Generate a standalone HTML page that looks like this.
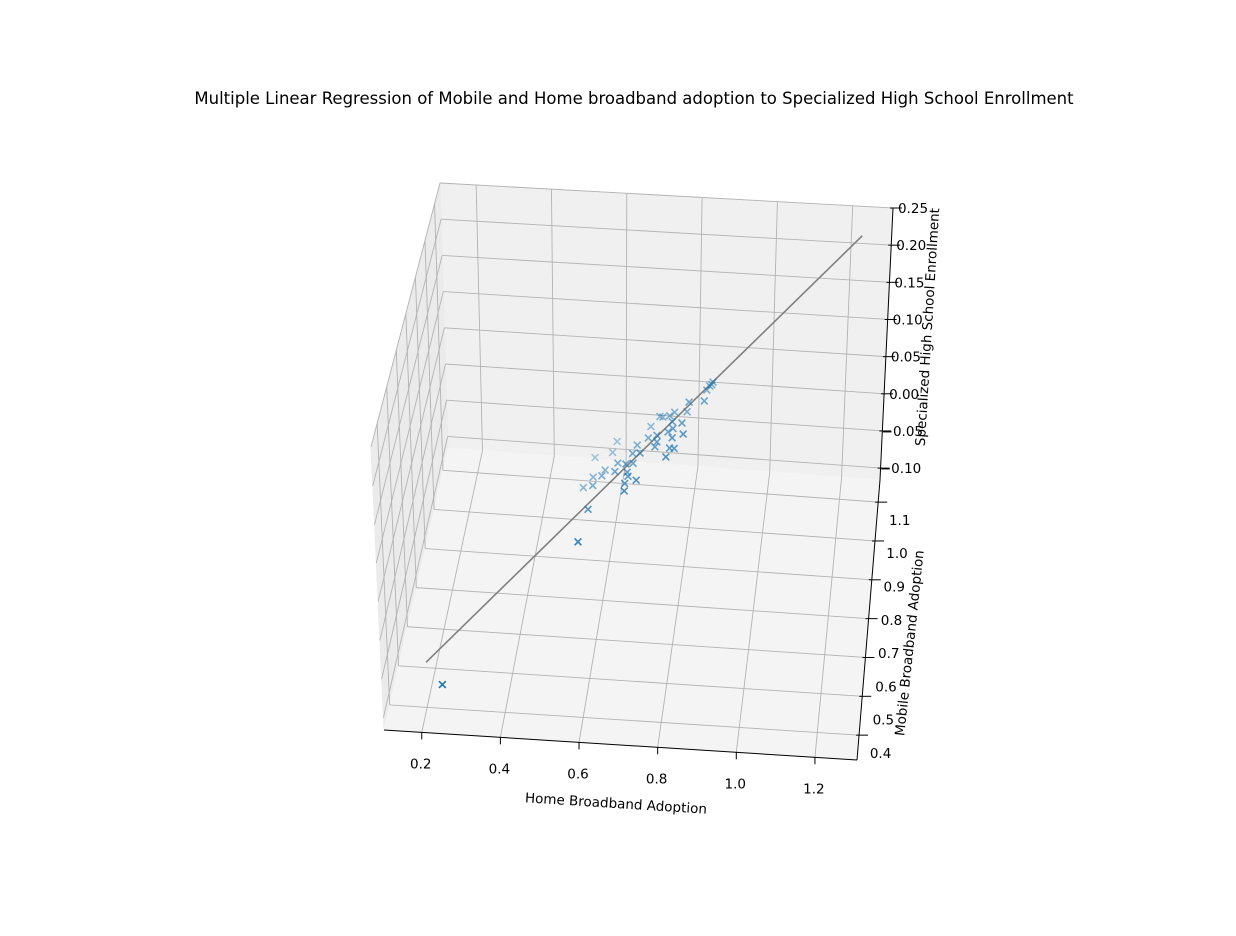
<!DOCTYPE html>
<html><head><meta charset="utf-8">
<style>
html,body{margin:0;padding:0;background:#fff;}
svg{display:block;font-family:"DejaVu Sans","Liberation Sans",sans-serif;}
</style></head>
<body>
<svg id="chart" width="1236" height="936" viewBox="0 0 1236 936">
<text x="634" y="104" text-anchor="middle" font-size="16.5" fill="#000">Multiple Linear Regression of Mobile and Home broadband adoption to Specialized High School Enrollment</text>
<g id="panes"></g>
<g id="grid"></g>
<g id="axes"></g>
<g id="line"></g>
<g id="points"></g>
<text x="616" y="808" text-anchor="middle" font-size="13.5" transform="rotate(3.6 616 803)">Home Broadband Adoption</text>
<text x="909" y="648" text-anchor="middle" font-size="13.5" transform="rotate(-84 909 643)">Mobile Broadband Adoption</text>
<text x="927" y="332" text-anchor="middle" font-size="13.5" transform="rotate(-86.5 927 327)">Specialized High School Enrollment</text>
</svg>
<script>
const home = [0.899,0.894,0.887,0.885,0.844,0.839,0.805,0.793,0.774,0.803,0.831,0.743,0.808,0.838,0.766,0.742,0.809,0.654,0.713,0.764,0.805,0.817,0.645,0.704,0.798,0.598,0.666,0.691,0.708,0.632,0.662,0.626,0.696,0.700,0.601,0.724,0.693,0.604,0.577,0.695,0.601,0.585,0.256,0.725,0.768,0.766,0.795,0.902];
const mobile = [0.912,0.910,0.905,0.875,0.879,0.877,0.885,0.877,0.882,0.855,0.842,0.877,0.836,0.818,0.833,0.840,0.816,0.873,0.837,0.811,0.799,0.799,0.854,0.817,0.780,0.855,0.809,0.787,0.798,0.810,0.785,0.793,0.776,0.764,0.805,0.750,0.753,0.780,0.792,0.732,0.719,0.652,0.455,0.808,0.820,0.883,0.836,0.915];
const enrollment = [0.124,0.123,0.120,0.121,0.116,0.104,0.098,0.097,0.092,0.101,0.107,0.081,0.102,0.105,0.093,0.085,0.100,0.060,0.076,0.089,0.095,0.095,0.055,0.075,0.093,0.046,0.065,0.076,0.072,0.054,0.066,0.055,0.071,0.072,0.046,0.075,0.068,0.048,0.038,0.069,0.048,0.039,-0.060,0.081,0.091,0.092,0.097,0.126];
const lineHome = [0.206,1.264];
const lineMobile = [0.497,1.131];
const lineEnroll = [-0.054,0.221];
const xTicks = [0.2,0.4,0.6,0.8,1.0,1.2];
const yTicks = [0.4,0.5,0.6,0.7,0.8,0.9,1.0,1.1];
const zTicks = [-0.10,-0.05,0.00,0.05,0.10,0.15,0.20,0.25];
const xLabels = ["0.2","0.4","0.6","0.8","1.0","1.2"];
const yLabels = ["0.4","0.5","0.6","0.7","0.8","0.9","1.0","1.1"];
const zLabels = ["\u22120.10","\u22120.05","0.00","0.05","0.10","0.15","0.20","0.25"];

const X0=0.104,X1=1.307,Y0=0.436,Y1=1.157,Z0=-0.116,Z1=0.25;
const YL0=0.379,YL1=1.22;
const NS="http://www.w3.org/2000/svg";
const C={BFL:[384,730],BFR:[857,760],BBL:[448,448],BBR:[880,480],TFL:[371,447],TFR:[862,470],TBL:[440,183],TBR:[893,208]};
function nu(h){return (h-X0)/(X1-X0);}
function nv(m){return (m-Y0)/(Y1-Y0);}
function nvl(m){return (m-YL0)/(YL1-YL0);}
function nw(z){return (z-Z0)/(Z1-Z0);}
function lerp(a,b,t){return [a[0]+(b[0]-a[0])*t,a[1]+(b[1]-a[1])*t];}
function box(u,v,w){
  const bf=lerp(C.BFL,C.BFR,u),bb=lerp(C.BBL,C.BBR,u),tf=lerp(C.TFL,C.TFR,u),tb=lerp(C.TBL,C.TBR,u);
  return lerp(lerp(bf,bb,v),lerp(tf,tb,v),w);
}
function proj(h,m,z){
  const u=nu(h),v=nv(m),w=nw(z);
  return [384+453*u+43*v, 730+32*u-282*v-275*w];
}
function mk(tag,attrs,parent){const e=document.createElementNS(NS,tag);for(const k in attrs)e.setAttribute(k,attrs[k]);parent.appendChild(e);return e;}
function pts(a){return a.map(p=>p[0].toFixed(1)+","+p[1].toFixed(1)).join(" ");}

const panes=document.getElementById('panes');
let p=mk('polygon',{points:pts([C.BBL,C.BBR,C.TBR,C.TBL]),fill:'#f0f0f0',stroke:'#f0f0f0'},panes);


p=mk('polygon',{points:pts([C.BFL,C.BBL,C.TBL,C.TFL]),fill:'#ebebeb',stroke:'#ebebeb'},panes);


p=mk('polygon',{points:pts([C.BFL,C.BFR,C.BBR,C.BBL]),fill:'#f4f4f4',stroke:'#f4f4f4'},panes);



const grid=document.getElementById('grid');
function gl(a,b,name){const l=mk('line',{x1:a[0],y1:a[1],x2:b[0],y2:b[1],stroke:'#b3b3b3','stroke-width':0.9},grid);

}
xTicks.forEach(t=>{const u=nu(t);if(u<0||u>1)return;
  gl(box(u,0,0),box(u,1,0),'x-grid-floor');gl(box(u,1,0),box(u,1,1),'x-grid-back');});
yTicks.forEach(t=>{const v=nv(t);if(v<0||v>1)return;
  gl(box(0,v,0),box(1,v,0),'y-grid-floor');gl(box(0,v,0),box(0,v,1),'y-grid-left');});
zTicks.forEach(t=>{const w=nw(t);if(w<0||w>1)return;
  gl(box(0,1,w),box(1,1,w),'z-grid-back');gl(box(0,0,w),box(0,1,w),'z-grid-left');});

const axes=document.getElementById('axes');
function al(a,b,name){const l=mk('line',{x1:a[0],y1:a[1],x2:b[0],y2:b[1],stroke:'#000','stroke-width':1},axes);

}
function tx(x,y,s,name){const t=mk('text',{x:x,y:y,'text-anchor':'middle','font-size':13.5,fill:'#000'},axes);t.textContent=s;

}
al(C.BFL,C.BFR,'x-axis-line');al(C.BFR,C.BBR,'y-axis-line');al(C.BBR,C.TBR,'z-axis-line');
xTicks.forEach((t,i)=>{const q=box(nu(t),0,0);al(q,[q[0],q[1]+7],'x-tick');tx(q[0]-1,q[1]+36,xLabels[i],'x-tick-label');});
yTicks.forEach((t,i)=>{const v=nv(t);const q=box(1,v,0);if(v>=0&&v<=1)al([q[0]-3,q[1]],[q[0]+9,q[1]],'y-tick');
  const ql=box(1,nvl(t),0);tx(ql[0]+23,ql[1]+5,yLabels[i],'y-tick-label');});
zTicks.forEach((t,i)=>{const q=box(1,1,nw(t));al([q[0]-3,q[1]],[q[0]+9,q[1]],'z-tick');tx(q[0]+20,q[1]+5,zLabels[i],'z-tick-label');});

const lg=document.getElementById('line');
const a=proj(lineHome[0],lineMobile[0],lineEnroll[0]),b=proj(lineHome[1],lineMobile[1],lineEnroll[1]);
const rl=mk('line',{x1:a[0],y1:a[1],x2:b[0],y2:b[1],stroke:'#808080','stroke-width':1.6},lg);



const pg=document.getElementById('points');
const depth=home.map((h,i)=>nv(mobile[i])-0.8*nw(enrollment[i]));
const dmin=Math.min(...depth),dmax=Math.max(...depth);
home.forEach((h,i)=>{
  const q=proj(h,mobile[i],enrollment[i]);
  const al=1-0.62*(depth[i]-dmin)/(dmax-dmin);
  const r=3.4;
  const path=mk('path',{d:`M${q[0]-r},${q[1]-r}L${q[0]+r},${q[1]+r}M${q[0]-r},${q[1]+r}L${q[0]+r},${q[1]-r}`,stroke:'#1f77b4','stroke-width':1.6,'stroke-opacity':al.toFixed(2),fill:'none'},pg);
  
  
});
</script>
</body></html>
